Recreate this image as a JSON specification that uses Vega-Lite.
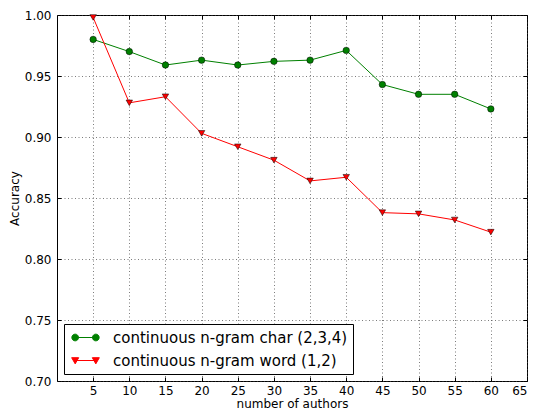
{
  "$schema": "https://vega.github.io/schema/vega-lite/v6.json",
  "width": 470,
  "height": 366,
  "autosize": "none",
  "padding": {"left": 57, "top": 15, "right": 7, "bottom": 31},
  "data": {
    "values": [
      {"authors": 5, "accuracy": 0.980, "series": "continuous n-gram char (2,3,4)"},
      {"authors": 10, "accuracy": 0.970, "series": "continuous n-gram char (2,3,4)"},
      {"authors": 15, "accuracy": 0.959, "series": "continuous n-gram char (2,3,4)"},
      {"authors": 20, "accuracy": 0.963, "series": "continuous n-gram char (2,3,4)"},
      {"authors": 25, "accuracy": 0.959, "series": "continuous n-gram char (2,3,4)"},
      {"authors": 30, "accuracy": 0.962, "series": "continuous n-gram char (2,3,4)"},
      {"authors": 35, "accuracy": 0.963, "series": "continuous n-gram char (2,3,4)"},
      {"authors": 40, "accuracy": 0.971, "series": "continuous n-gram char (2,3,4)"},
      {"authors": 45, "accuracy": 0.943, "series": "continuous n-gram char (2,3,4)"},
      {"authors": 50, "accuracy": 0.935, "series": "continuous n-gram char (2,3,4)"},
      {"authors": 55, "accuracy": 0.935, "series": "continuous n-gram char (2,3,4)"},
      {"authors": 60, "accuracy": 0.923, "series": "continuous n-gram char (2,3,4)"},
      {"authors": 5, "accuracy": 0.998, "series": "continuous n-gram word (1,2)"},
      {"authors": 10, "accuracy": 0.928, "series": "continuous n-gram word (1,2)"},
      {"authors": 15, "accuracy": 0.933, "series": "continuous n-gram word (1,2)"},
      {"authors": 20, "accuracy": 0.903, "series": "continuous n-gram word (1,2)"},
      {"authors": 25, "accuracy": 0.892, "series": "continuous n-gram word (1,2)"},
      {"authors": 30, "accuracy": 0.881, "series": "continuous n-gram word (1,2)"},
      {"authors": 35, "accuracy": 0.864, "series": "continuous n-gram word (1,2)"},
      {"authors": 40, "accuracy": 0.867, "series": "continuous n-gram word (1,2)"},
      {"authors": 45, "accuracy": 0.838, "series": "continuous n-gram word (1,2)"},
      {"authors": 50, "accuracy": 0.837, "series": "continuous n-gram word (1,2)"},
      {"authors": 55, "accuracy": 0.832, "series": "continuous n-gram word (1,2)"},
      {"authors": 60, "accuracy": 0.822, "series": "continuous n-gram word (1,2)"}
    ]
  },
  "layer": [
    {
      "mark": {"type": "line", "strokeWidth": 1, "clip": true},
      "encoding": {
        "x": {
          "field": "authors", "type": "quantitative",
          "scale": {"domain": [0, 65], "nice": false, "zero": false},
          "axis": {
            "orient": "bottom", "title": "number of authors",
            "values": [5, 10, 15, 20, 25, 30, 35, 40, 45, 50, 55, 60, 65],
            "grid": true, "tickSize": -4, "labelPadding": 8, "titlePadding": 2
          }
        },
        "y": {
          "field": "accuracy", "type": "quantitative",
          "scale": {"domain": [0.7, 1.0], "nice": false, "zero": false},
          "axis": {
            "orient": "left", "title": "Accuracy", "format": ".2f",
            "values": [0.7, 0.75, 0.8, 0.85, 0.9, 0.95, 1.0],
            "grid": true, "tickSize": -4, "labelPadding": 10, "titlePadding": 3
          }
        },
        "color": {
          "field": "series", "type": "nominal",
          "scale": {"domain": ["continuous n-gram char (2,3,4)", "continuous n-gram word (1,2)"], "range": ["#008000", "#ff0000"]},
          "legend": {
            "title": null,
            "orient": "bottom-left",
            "offset": 7,
            "padding": 5,
            "strokeColor": "black",
            "fillColor": "white",
            "labelFontSize": 15,
            "labelFont": "DejaVu Sans",
            "labelColor": "black",
            "labelLimit": 0,
            "labelOffset": 19,
            "symbolOffset": 8,
            "rowPadding": 6,
            "symbolSize": 256,
            "symbolType": "circle",
            "encode": {
              "symbols": {
                "update": {
                  "shape": {"signal": "datum.value == 'continuous n-gram char (2,3,4)' ? 'M-1.29,0L1.29,0M-1.71,0A0.42,0.42,0,1,1,-0.87,0A0.42,0.42,0,1,1,-1.71,0ZM0.87,0A0.42,0.42,0,1,1,1.71,0A0.42,0.42,0,1,1,0.87,0Z' : 'M-1.29,0L1.29,0M-1.73,-0.35L-0.85,-0.35L-1.29,0.42ZM0.85,-0.35L1.73,-0.35L1.29,0.42Z'"},
                  "fill": {"signal": "datum.value == 'continuous n-gram char (2,3,4)' ? '#008000' : '#ff0000'"},
                  "stroke": {"signal": "datum.value == 'continuous n-gram char (2,3,4)' ? '#008000' : '#ff0000'"},
                  "strokeWidth": {"value": 1},
                  "opacity": {"value": 1},
                  "fillOpacity": {"value": 1},
                  "strokeOpacity": {"value": 1}
                }
              }
            }
          }
        }
      }
    },
    {
      "transform": [{"filter": "datum.series == 'continuous n-gram char (2,3,4)'"}],
      "mark": {"type": "point", "filled": true, "shape": "circle", "fill": "#008000", "opacity": 1, "stroke": "black", "strokeWidth": 0.5, "size": 42, "clip": false},
      "encoding": {
        "x": {
          "field": "authors", "type": "quantitative",
          "scale": {"domain": [0, 65], "nice": false, "zero": false},
          "axis": {
            "orient": "top", "title": null, "labels": false, "grid": false,
            "values": [5, 10, 15, 20, 25, 30, 35, 40, 45, 50, 55, 60, 65],
            "tickSize": -4
          }
        },
        "y": {
          "field": "accuracy", "type": "quantitative",
          "scale": {"domain": [0.7, 1.0], "nice": false, "zero": false},
          "axis": {
            "orient": "right", "title": null, "labels": false, "grid": false,
            "values": [0.7, 0.75, 0.8, 0.85, 0.9, 0.95, 1.0],
            "tickSize": -4
          }
        }
      }
    },
    {
      "transform": [{"filter": "datum.series == 'continuous n-gram word (1,2)'"}],
      "mark": {"type": "point", "filled": true, "shape": "triangle-down", "fill": "#ff0000", "opacity": 1, "stroke": "black", "strokeWidth": 0.5, "size": 42, "clip": false},
      "encoding": {
        "x": {"field": "authors", "type": "quantitative", "axis": null},
        "y": {"field": "accuracy", "type": "quantitative", "axis": null}
      }
    }
  ],
  "resolve": {"axis": {"x": "independent", "y": "independent"}},
  "config": {
    "font": "DejaVu Sans",
    "view": {"stroke": "black", "strokeWidth": 1},
    "axis": {
      "domain": false,
      "tickColor": "black",
      "tickWidth": 1,
      "labelFont": "DejaVu Sans",
      "labelFontSize": 12,
      "labelColor": "black",
      "titleFont": "DejaVu Sans",
      "titleFontSize": 12,
      "titleFontWeight": "normal",
      "titleColor": "black",
      "gridColor": "#444",
      "gridWidth": 0.7,
      "gridDash": [1, 2.5],
      "gridOpacity": 1
    }
  }
}
